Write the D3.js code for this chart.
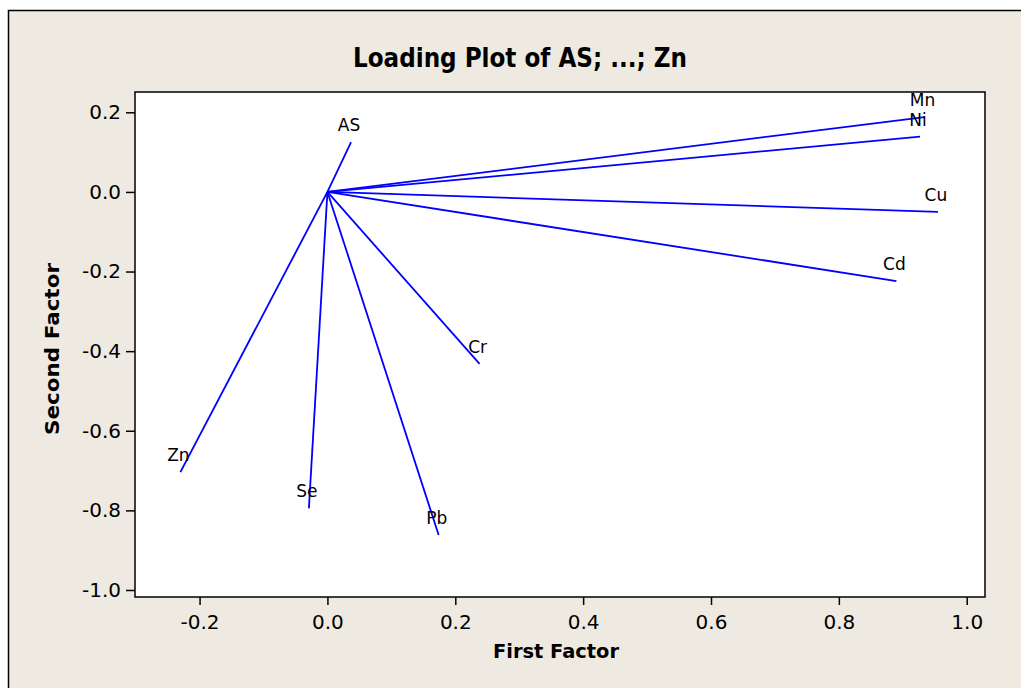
<!DOCTYPE html>
<html>
<head>
<meta charset="utf-8">
<script src="https://cdn.jsdelivr.net/npm/d3@7"></script>
<style>
  body { margin: 0; background: #fff; }
  svg text { font-family: "DejaVu Sans", Verdana, sans-serif; }
</style>
</head>
<body>
<div id="chart"></div>
<script>
// variable names and their loadings on the two factors
const variables = ["AS", "Mn", "Ni", "Cu", "Cd", "Cr", "Pb", "Se", "Zn"];
const firstFactor = [0.037, 0.934, 0.927, 0.955, 0.890, 0.238, 0.174, -0.029, -0.230];
const secondFactor = [0.125, 0.188, 0.139, -0.050, -0.224, -0.432, -0.862, -0.795, -0.704];

const xTicks = [-0.2, 0.0, 0.2, 0.4, 0.6, 0.8, 1.0];
const yTicks = [0.2, 0.0, -0.2, -0.4, -0.6, -0.8, -1.0];

const width = 1021;
const height = 688;
const plot = { left: 135, top: 92, right: 985, bottom: 597 };

const svg = d3.select("#chart")
    .append("svg")
    .attr("width", width)
    .attr("height", height);

// beige page with frame
svg.append("rect")
    .attr("x", 8.5)
    .attr("y", 10.5)
    .attr("width", width + 20)
    .attr("height", height + 20)
    .attr("fill", "#eeeae1")
    .attr("stroke", "#000")
    .attr("stroke-width", 1.5);

const x = d3.scaleLinear()
    .domain([-0.301, 1.0286])
    .range([plot.left, plot.right]);

const y = d3.scaleLinear()
    .domain([-1.0176, 0.251])
    .range([plot.bottom, plot.top]);

svg.append("rect")
    .attr("x", plot.left)
    .attr("y", plot.top)
    .attr("width", plot.right - plot.left)
    .attr("height", plot.bottom - plot.top)
    .attr("fill", "#fff")
    .attr("stroke", "#000")
    .attr("stroke-width", 1.5);

const fmt = (d) => d3.format(".1f")(d).replace("−", "-");

const xAxis = svg.append("g")
    .attr("transform", `translate(0,${plot.bottom})`)
    .call(d3.axisBottom(x).tickValues(xTicks).tickFormat(fmt).tickSize(8).tickPadding(5));

const yAxis = svg.append("g")
    .attr("transform", `translate(${plot.left},0)`)
    .call(d3.axisLeft(y).tickValues(yTicks).tickFormat(fmt).tickSize(9).tickPadding(5));

[xAxis, yAxis].forEach((g) => {
    g.select(".domain").remove();
    g.selectAll(".tick line").attr("stroke", "#000").attr("stroke-width", 1.5);
    g.selectAll(".tick text")
        .attr("fill", "#000")
        .style("font-size", "20px")
        .style("font-family", "'DejaVu Sans', Verdana, sans-serif");
});
xAxis.selectAll(".tick text").attr("dy", "0.95em");

// loading lines from the origin
svg.append("g")
    .selectAll("line")
    .data(variables)
    .join("line")
    .attr("x1", x(0))
    .attr("y1", y(0))
    .attr("x2", (d, i) => x(firstFactor[i]))
    .attr("y2", (d, i) => y(secondFactor[i]))
    .attr("stroke", "#0000ff")
    .attr("stroke-width", 1.8);

svg.append("g")
    .selectAll("text")
    .data(variables)
    .join("text")
    .attr("x", (d, i) => x(firstFactor[i]) - 2)
    .attr("y", (d, i) => y(secondFactor[i]) - 11)
    .attr("text-anchor", "middle")
    .style("font-size", "17px")
    .attr("fill", "#000")
    .text((d) => d);

// title and axis titles
svg.append("text")
    .attr("x", 520)
    .attr("y", 67)
    .attr("text-anchor", "middle")
    .attr("textLength", 334)
    .attr("lengthAdjust", "spacingAndGlyphs")
    .style("font-size", "26px")
    .style("font-weight", "bold")
    .text("Loading Plot of AS; ...; Zn");

svg.append("text")
    .attr("x", 556)
    .attr("y", 658)
    .attr("text-anchor", "middle")
    .attr("textLength", 126)
    .attr("lengthAdjust", "spacingAndGlyphs")
    .style("font-size", "20px")
    .style("font-weight", "bold")
    .text("First Factor");

svg.append("text")
    .attr("transform", "translate(59,349) rotate(-90)")
    .attr("text-anchor", "middle")
    .attr("textLength", 172)
    .attr("lengthAdjust", "spacingAndGlyphs")
    .style("font-size", "20px")
    .style("font-weight", "bold")
    .text("Second Factor");
</script>
</body>
</html>
